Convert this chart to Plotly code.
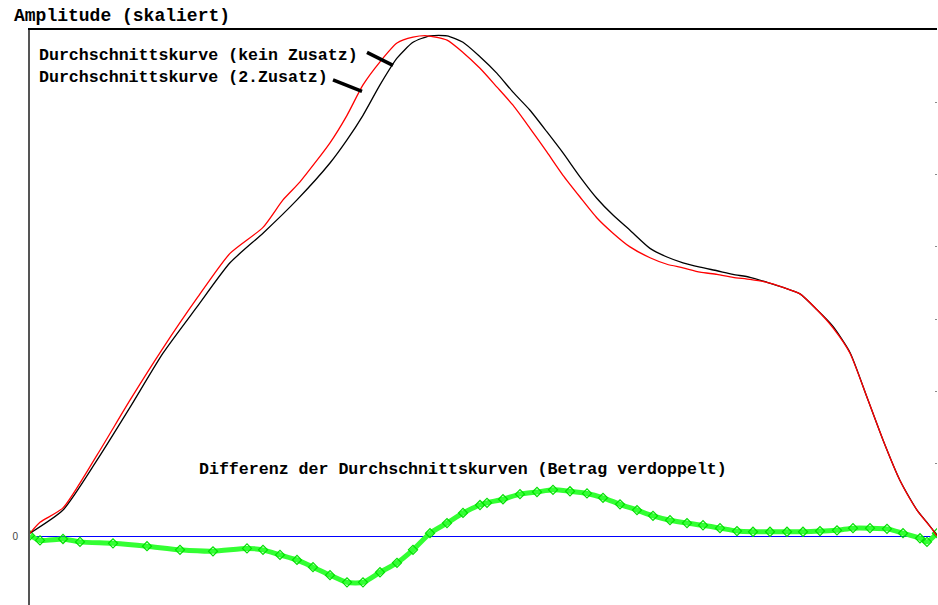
import plotly.graph_objects as go

# Sample position along the curve (arbitrary units) and amplitudes (scaled)
x_black = [0, 33, 67, 100, 133, 167, 200, 233, 267, 300, 317, 333, 350, 367, 383, 400, 417, 433,
           450, 467, 483, 500, 517, 533, 550, 567, 583, 600, 620, 637, 653, 670, 687, 703, 720,
           737, 753, 770, 787, 803, 820, 837, 853, 870, 887, 897, 907]
y_black = [0.04, 0.36, 1.05, 1.78, 2.53, 3.17, 3.78, 4.19, 4.65, 5.16, 5.48, 5.82, 6.24, 6.61, 6.83,
           6.92, 6.92, 6.83, 6.63, 6.40, 6.14, 5.89, 5.59, 5.30, 4.97, 4.67, 4.44, 4.23, 3.98, 3.86,
           3.78, 3.72, 3.67, 3.62, 3.58, 3.51, 3.44, 3.35, 3.13, 2.90, 2.54, 1.92, 1.33, 0.77, 0.36,
           0.19, 0.01]

x_red = [0, 10, 33, 67, 100, 133, 167, 200, 233, 253, 270, 300, 317, 333, 350, 367, 383, 397, 417,
         433, 450, 467, 483, 500, 517, 533, 550, 567, 583, 600, 620, 637, 653, 670, 687, 703, 720,
         737, 753, 770, 787, 803, 820, 837, 853, 870, 887, 903, 907]
y_red = [0.04, 0.19, 0.39, 1.12, 1.88, 2.60, 3.29, 3.91, 4.27, 4.65, 4.90, 5.44, 5.82, 6.24, 6.56,
         6.82, 6.90, 6.92, 6.86, 6.69, 6.47, 6.21, 5.96, 5.64, 5.31, 4.99, 4.69, 4.40, 4.19, 4.00,
         3.85, 3.76, 3.71, 3.65, 3.62, 3.58, 3.55, 3.51, 3.44, 3.35, 3.13, 2.88, 2.53, 1.92, 1.33,
         0.77, 0.36, 0.08, 0.00]

x_diff = [0, 10, 33, 50, 83, 117, 150, 183, 217, 233, 250, 267, 283, 300, 317, 333, 350, 367, 383,
          400, 417, 433, 450, 457, 473, 490, 507, 523, 540, 557, 573, 590, 607, 623, 640, 657, 673,
          690, 707, 723, 740, 757, 773, 790, 807, 823, 840, 857, 873, 890, 897, 907]
y_diff = [0.01, -0.06, -0.04, -0.08, -0.10, -0.14, -0.19, -0.21, -0.17, -0.19, -0.26, -0.33, -0.43,
          -0.54, -0.64, -0.64, -0.50, -0.37, -0.19, 0.04, 0.18, 0.32, 0.43, 0.46, 0.51, 0.58, 0.61,
          0.64, 0.62, 0.59, 0.53, 0.44, 0.36, 0.28, 0.22, 0.18, 0.15, 0.11, 0.07, 0.06, 0.06, 0.06,
          0.06, 0.07, 0.08, 0.11, 0.11, 0.10, 0.04, -0.03, -0.08, 0.04]

right_ticks = [1, 2, 3, 4, 5, 6]

label_black = "Durchschnittskurve (kein Zusatz)"
label_red = "Durchschnittskurve (2.Zusatz)"
label_diff = "Differenz der Durchschnittskurven (Betrag verdoppelt)"
y_title = "Amplitude (skaliert)"

MONO = "Liberation Mono, Courier New, monospace"

fig = go.Figure()
fig.add_trace(go.Scatter(x=x_diff, y=y_diff, mode="lines+markers",
                         line=dict(color="#33ff33", width=5, shape="spline", smoothing=0.6),
                         marker=dict(symbol="diamond-open", size=7, color="#00e000",
                                     line=dict(width=1.2)),
                         showlegend=False, hoverinfo="skip"))
fig.add_trace(go.Scatter(x=x_black, y=y_black, mode="lines",
                         line=dict(color="black", width=1.3, shape="spline", smoothing=0.6),
                         showlegend=False))
fig.add_trace(go.Scatter(x=x_red, y=y_red, mode="lines",
                         line=dict(color="#ff0000", width=1.3, shape="spline", smoothing=0.6),
                         showlegend=False))
# invisible trace to host right-side tick marks
fig.add_trace(go.Scatter(x=[x_black[0]], y=[0], yaxis="y2", mode="markers",
                         marker=dict(opacity=0), showlegend=False, hoverinfo="skip"))

fig.update_layout(
    width=938, height=605,
    margin=dict(l=30, r=1, t=30, b=0),
    paper_bgcolor="white", plot_bgcolor="white",
    showlegend=False,
    xaxis=dict(range=[0, 907], side="top", showline=True, linecolor="black", linewidth=2,
               showticklabels=False, ticks="", showgrid=False, zeroline=False),
    yaxis=dict(range=[-0.953, 7.0], showline=True, linecolor="#555555", linewidth=2,
               tickvals=[0], ticktext=["0"], ticks="", ticklabelstandoff=8,
               tickfont=dict(family="Liberation Sans, Arial", size=10, color="#444444"),
               showgrid=False, zeroline=True, zerolinecolor="#0000ff", zerolinewidth=1),
    yaxis2=dict(range=[-0.953, 7.0], overlaying="y", side="right", tickvals=right_ticks,
                ticks="inside", ticklen=2, tickcolor="#888888", tickwidth=1,
                showticklabels=False, showgrid=False, zeroline=False, showline=False),
)

fig.add_annotation(text="<b>%s</b>" % y_title, xref="paper", yref="paper",
                   x=-0.0198, y=1.0243, xanchor="left", yanchor="middle", showarrow=False,
                   font=dict(family=MONO, size=18, color="black"))
fig.add_annotation(text="<b>%s</b>" % label_black, xref="paper", yref="paper",
                   x=0.0077, y=0.9565, xanchor="left", yanchor="middle", showarrow=False,
                   font=dict(family=MONO, size=16.6, color="black"))
fig.add_annotation(text="<b>%s</b>" % label_red, xref="paper", yref="paper",
                   x=0.0077, y=0.918, xanchor="left", yanchor="middle", showarrow=False,
                   font=dict(family=MONO, size=16.6, color="black"))
fig.add_annotation(text="<b>%s</b>" % label_diff, xref="paper", yref="paper",
                   x=0.184, y=0.2365, xanchor="left", yanchor="middle", showarrow=False,
                   font=dict(family=MONO, size=16.6, color="black"))

# pointer lines from the labels to the curves
fig.add_shape(type="line", xref="x", yref="y", x0=337, y0=6.69, x1=363, y1=6.51,
              line=dict(color="black", width=3.5))
fig.add_shape(type="line", xref="x", yref="y", x0=303, y0=6.31, x1=332, y1=6.15,
              line=dict(color="black", width=3.5))

fig.write_html("out.html")
